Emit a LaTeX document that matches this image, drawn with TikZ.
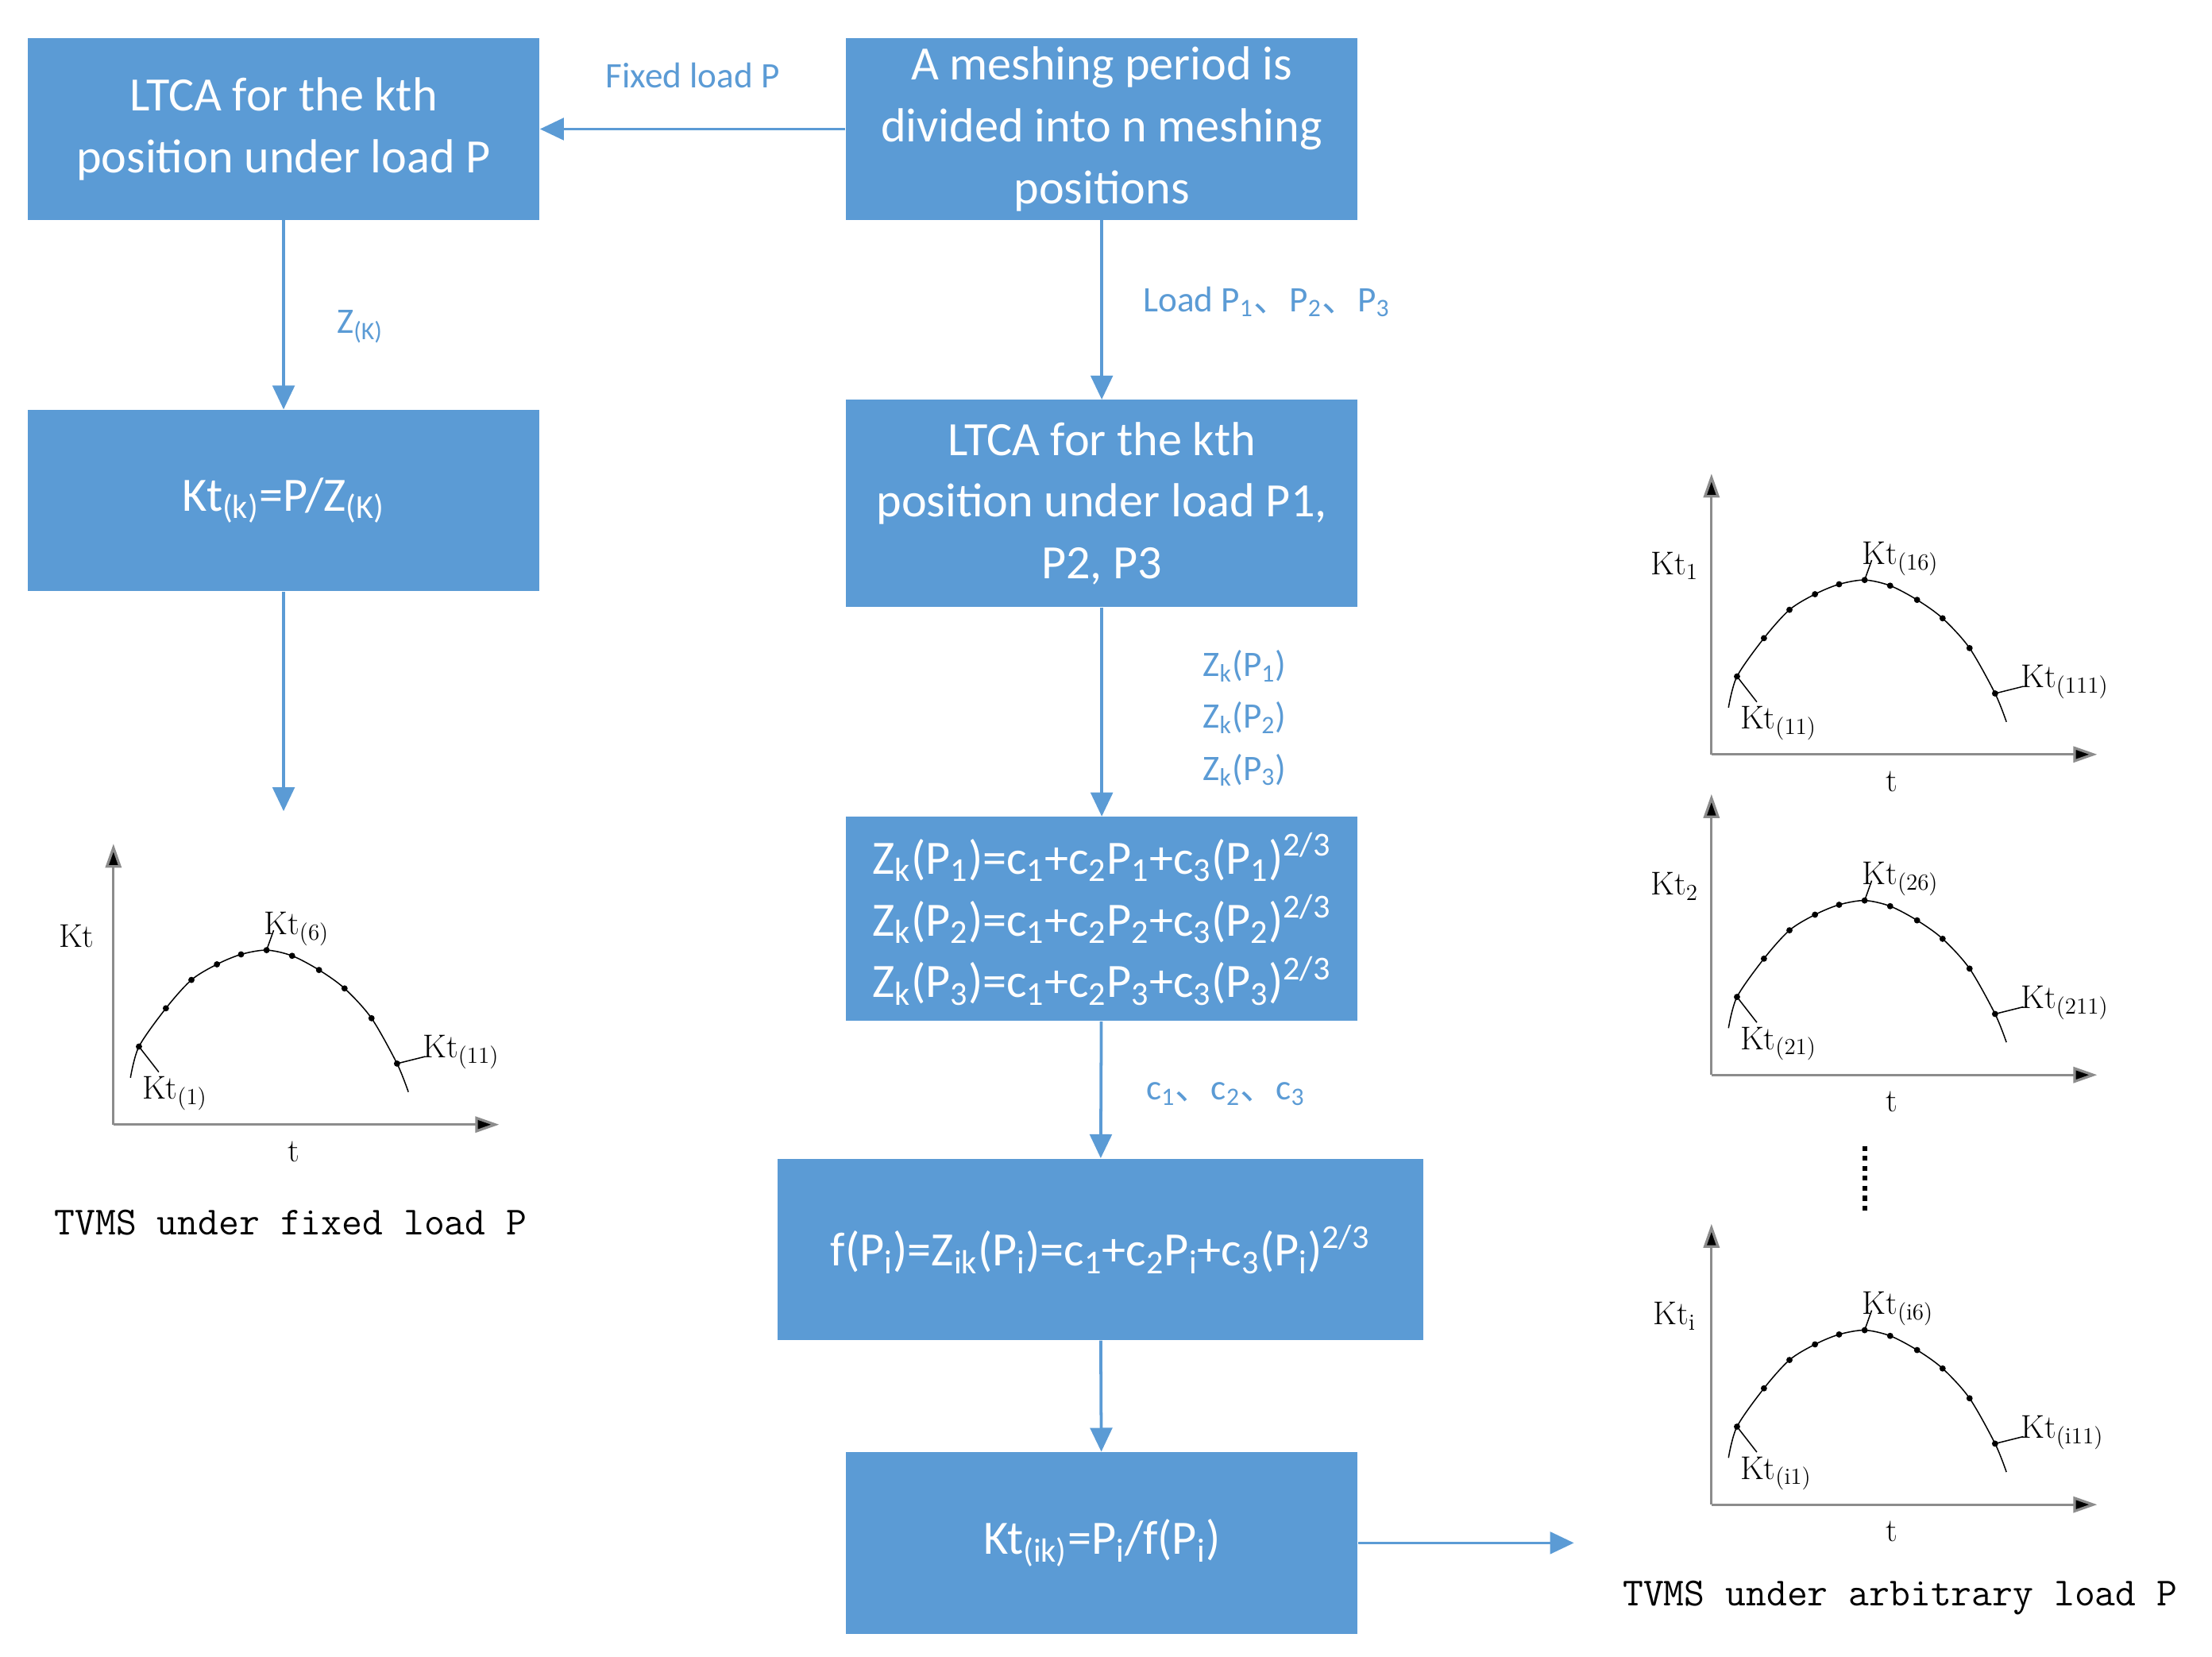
\documentclass[tikz,border=0pt]{standalone}
\usepackage{fontspec}
\newfontfamily\carl{Carlito}
\newfontfamily\cjk{Noto Sans CJK SC}
\usetikzlibrary{arrows.meta}
\definecolor{bx}{HTML}{5B9BD5}
\newcommand\dn{{\cjk 、}}
\begin{document}
\begin{tikzpicture}[x=0.25mm,y=-0.25mm,
  box/.style={fill=bx,text=white,font=\carl\fontsize{24}{31}\selectfont,align=center,inner sep=0pt},
  lab/.style={text=bx,font=\carl\fontsize{18}{26}\selectfont,align=left,inner sep=0pt},
  arr/.style={draw=bx,line width=1.5pt,-{Triangle[length=12pt,width=11pt]}},
  ax/.style={draw=black!45,line width=1.3pt,-{Triangle[length=12pt,width=8pt,fill=black]}},
  cl/.style={font=\fontsize{16.5}{19}\selectfont,inner sep=0pt},
  captxt/.style={font=\ttfamily\fontsize{20}{24}\selectfont,inner sep=0pt}]
\useasboundingbox (0,0) rectangle (1560,1168);
\newcommand\chart[7]{%
\begin{scope}[shift={(#1,#2)}]
 \draw[ax] (0,0) -- (0,-198);
 \draw[ax] (0,0) -- (272,0);
 \draw[line width=0.6pt] plot[smooth] coordinates {(12,-33)(18,-55)(37,-82)(55,-102)(73,-113)(90,-120)(108,-123)(126,-119)(145,-109)(163,-96)(182,-75)(200,-43)(208,-23)};
 \foreach \p in {(18,-55),(37,-82),(55,-102),(73,-113),(90,-120),(108,-123),(126,-119),(145,-109),(163,-96),(182,-75),(200,-43)} \fill \p circle (2.2);
 \draw[line width=0.6pt] (108,-123) -- (113,-137);
 \draw[line width=0.6pt] (18,-55) -- (32,-37);
 \draw[line width=0.6pt] (200,-43) -- (220,-48);
 \node[cl] at (-26,-133) {#3};
 \node[cl,anchor=west] at (106,-138) {#4};
 \node[cl,anchor=west] at (20,-22) {#5};
 \node[cl,anchor=west] at (218,-51) {#6};
 \node[cl] at (127,19) {t};
 #7
\end{scope}}
\node[box,minimum width=90.25mm,minimum height=32mm] (A) at (200,91) {LTCA for the kth\\position under load P};
\node[box,minimum width=90.25mm,minimum height=32mm] (B) at (777,91) {A meshing period is\\divided into n meshing\\positions};
\node[box,minimum width=90.25mm,minimum height=32mm] (C) at (200,353) {Kt\textsubscript{(k)}=P/Z\textsubscript{(K)}};
\node[box,minimum width=90.25mm,minimum height=36.5mm] (D) at (777,355) {LTCA for the kth\\position under load P1,\\P2, P3};
\node[box,minimum width=90.25mm,minimum height=36mm] (E) at (777,648) {Z\textsubscript{k}(P\textsubscript{1})=c\textsubscript{1}+c\textsubscript{2}P\textsubscript{1}+c\textsubscript{3}(P\textsubscript{1})\textsuperscript{2/3}\\Z\textsubscript{k}(P\textsubscript{2})=c\textsubscript{1}+c\textsubscript{2}P\textsubscript{2}+c\textsubscript{3}(P\textsubscript{2})\textsuperscript{2/3}\\Z\textsubscript{k}(P\textsubscript{3})=c\textsubscript{1}+c\textsubscript{2}P\textsubscript{3}+c\textsubscript{3}(P\textsubscript{3})\textsuperscript{2/3}};
\node[box,minimum width=113.75mm,minimum height=32mm] (F) at (776,881) {f(P\textsubscript{i})=Z\textsubscript{ik}(P\textsubscript{i})=c\textsubscript{1}+c\textsubscript{2}P\textsubscript{i}+c\textsubscript{3}(P\textsubscript{i})\textsuperscript{2/3}};
\node[box,minimum width=90.25mm,minimum height=32mm] (G) at (777,1088) {Kt\textsubscript{(ik)}=P\textsubscript{i}/f(P\textsubscript{i})};
\coordinate (c1) at (200,572);
\coordinate (g1) at (1110,1088);
\draw[arr] (B) -- (A) node[lab,midway,above=20pt] {Fixed load P};
\draw[arr] (A) -- (C) node[lab,midway,right=26pt,yshift=-6pt] {Z\textsubscript{(K)}};
\draw[arr] (C) -- (c1);
\draw[arr] (B) -- (D) node[lab,midway,anchor=west,xshift=20pt,yshift=4pt] {Load P\textsubscript{1}\dn P\textsubscript{2}\dn P\textsubscript{3}};
\draw[arr] (D) -- (E) node[lab,midway,anchor=west,xshift=50pt,yshift=-3pt,align=left] {Z\textsubscript{k}(P\textsubscript{1})\\Z\textsubscript{k}(P\textsubscript{2})\\Z\textsubscript{k}(P\textsubscript{3})};
\draw[arr] (E) -- (F) node[lab,midway,anchor=west,xshift=22pt,yshift=-2pt] {c\textsubscript{1}\dn c\textsubscript{2}\dn c\textsubscript{3}};
\draw[arr] (F) -- (G);
\draw[arr] (G) -- (g1);
\chart{80}{793}{Kt}{Kt\textsubscript{(6)}}{Kt\textsubscript{(1)}}{Kt\textsubscript{(11)}}{}
\chart{1207}{532}{Kt\textsubscript{1}}{Kt\textsubscript{(16)}}{Kt\textsubscript{(11)}}{Kt\textsubscript{(111)}}{}
\chart{1207}{758}{Kt\textsubscript{2}}{Kt\textsubscript{(26)}}{Kt\textsubscript{(21)}}{Kt\textsubscript{(211)}}{}
\chart{1207}{1061}{Kt\textsubscript{i}}{Kt\textsubscript{(i6)}}{Kt\textsubscript{(i1)}}{Kt\textsubscript{(i11)}}{}
\draw[line width=2.5pt,dash pattern=on 2.5pt off 2.5pt] (1315,808) -- (1315,857);
\node[captxt] (cap1) at (205,862) {TVMS under fixed load P};
\node[captxt] (cap2) at (1340,1127) {TVMS under arbitrary load P};
\end{tikzpicture}
\end{document}
